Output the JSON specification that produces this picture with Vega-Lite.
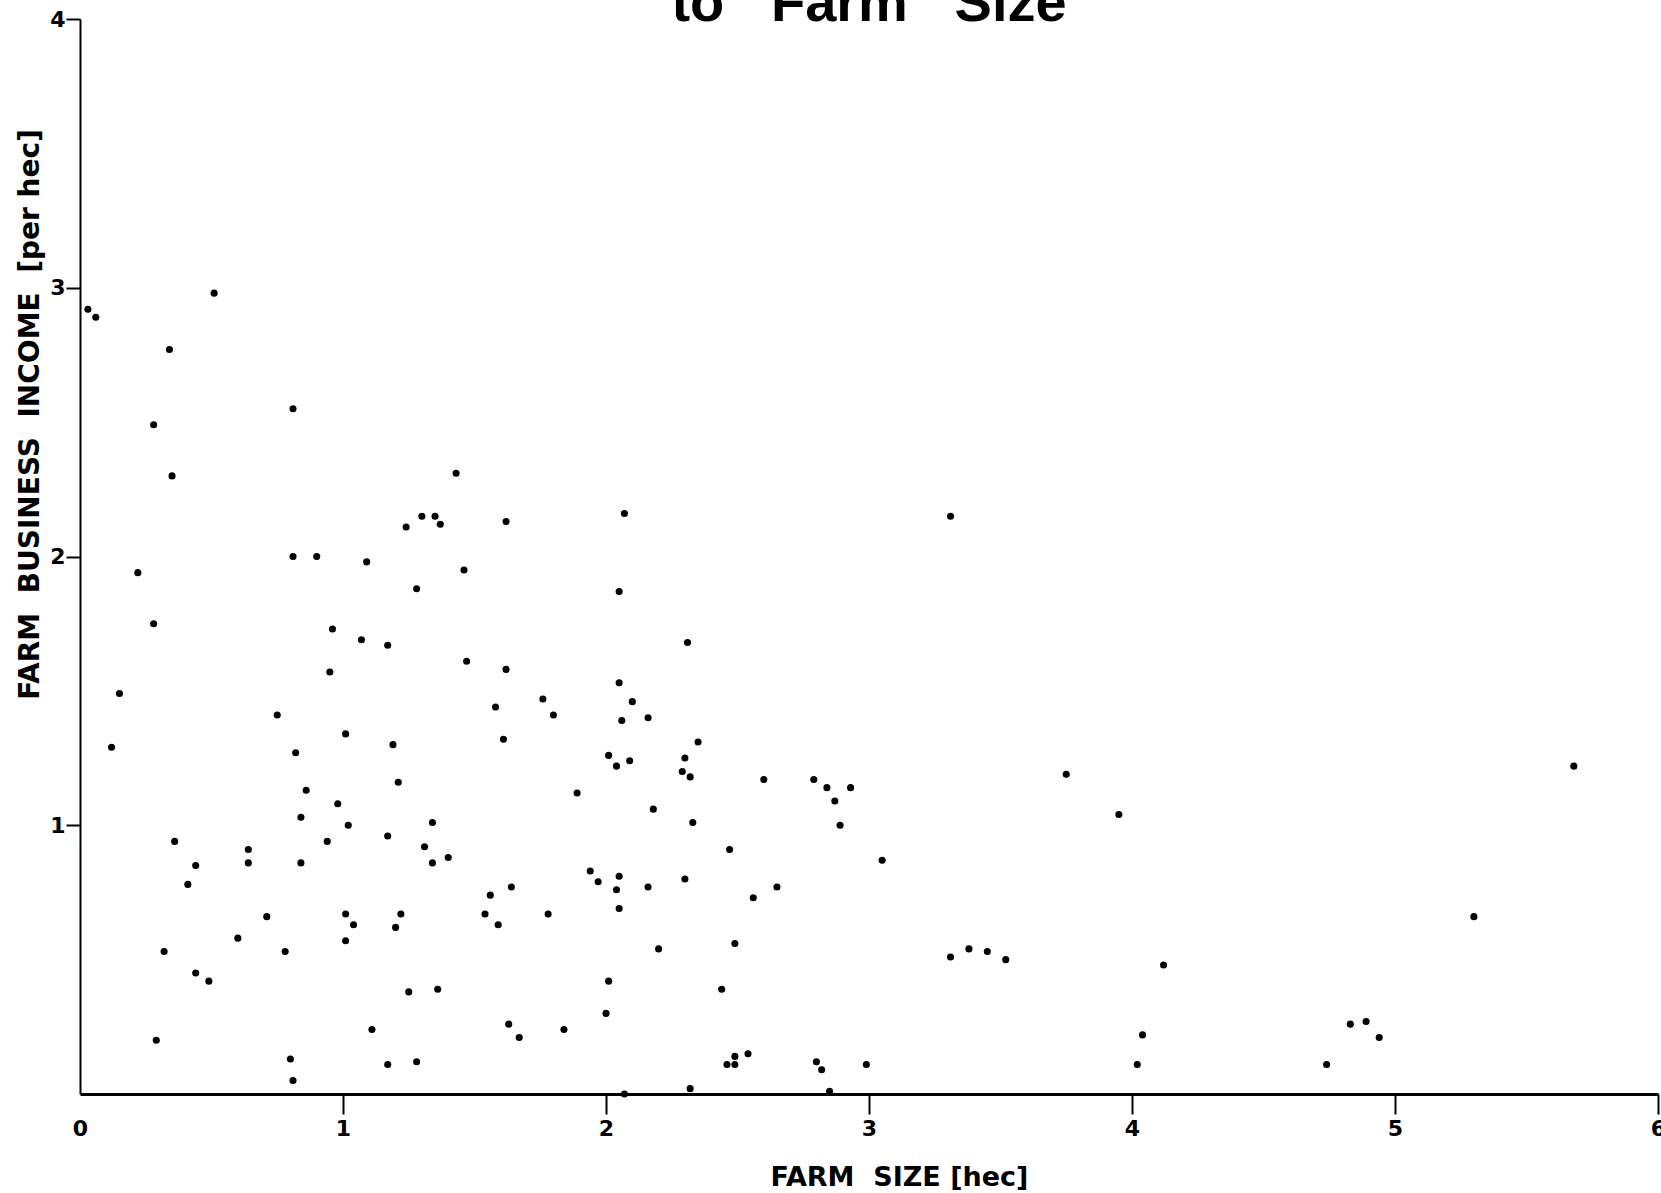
{
  "$schema": "https://vega.github.io/schema/vega-lite/v6.json",
  "width": 1578,
  "height": 1075,
  "autosize": {"type": "none"},
  "padding": {"left": 80, "top": 19, "right": 3, "bottom": 99},
  "background": "white",
  "config": {"view": {"stroke": null}, "axis": {"grid": false}},
  "title": {"text": "to\u00a0\u00a0\u00a0Farm\u00a0\u00a0\u00a0Size", "font": "Liberation Sans", "fontSize": 56, "fontWeight": "bold", "color": "black", "anchor": "middle", "baseline": "alphabetic", "offset": -69},
  "data": {"values": [
    {"size": 0.03, "income": 2.92}, {"size": 0.06, "income": 2.89}, {"size": 0.51, "income": 2.98}, {"size": 0.34, "income": 2.77},
    {"size": 0.81, "income": 2.55}, {"size": 0.28, "income": 2.49}, {"size": 0.35, "income": 2.30}, {"size": 1.43, "income": 2.31},
    {"size": 1.24, "income": 2.11}, {"size": 1.30, "income": 2.15}, {"size": 1.35, "income": 2.15}, {"size": 1.37, "income": 2.12},
    {"size": 0.81, "income": 2.00}, {"size": 0.90, "income": 2.00}, {"size": 1.09, "income": 1.98}, {"size": 0.22, "income": 1.94},
    {"size": 1.46, "income": 1.95}, {"size": 1.28, "income": 1.88},
    {"size": 0.28, "income": 1.75}, {"size": 0.96, "income": 1.73}, {"size": 1.07, "income": 1.69}, {"size": 1.17, "income": 1.67},
    {"size": 1.47, "income": 1.61}, {"size": 0.95, "income": 1.57}, {"size": 0.15, "income": 1.49}, {"size": 0.75, "income": 1.41},
    {"size": 1.01, "income": 1.34}, {"size": 1.19, "income": 1.30}, {"size": 0.12, "income": 1.29}, {"size": 0.82, "income": 1.27},
    {"size": 1.21, "income": 1.16}, {"size": 0.86, "income": 1.13}, {"size": 0.98, "income": 1.08}, {"size": 0.84, "income": 1.03},
    {"size": 1.02, "income": 1.00}, {"size": 1.34, "income": 1.01}, {"size": 0.36, "income": 0.94}, {"size": 0.94, "income": 0.94},
    {"size": 1.17, "income": 0.96}, {"size": 0.64, "income": 0.91}, {"size": 1.31, "income": 0.92}, {"size": 0.64, "income": 0.86},
    {"size": 0.84, "income": 0.86}, {"size": 1.34, "income": 0.86}, {"size": 1.40, "income": 0.88}, {"size": 0.44, "income": 0.85},
    {"size": 0.41, "income": 0.78},
    {"size": 0.32, "income": 0.53}, {"size": 0.44, "income": 0.45}, {"size": 0.49, "income": 0.42}, {"size": 0.29, "income": 0.20},
    {"size": 0.71, "income": 0.66}, {"size": 0.60, "income": 0.58}, {"size": 0.78, "income": 0.53}, {"size": 1.01, "income": 0.67},
    {"size": 1.04, "income": 0.63}, {"size": 1.01, "income": 0.57}, {"size": 1.22, "income": 0.67}, {"size": 1.20, "income": 0.62},
    {"size": 1.25, "income": 0.38}, {"size": 1.36, "income": 0.39}, {"size": 1.11, "income": 0.24}, {"size": 0.80, "income": 0.13},
    {"size": 0.81, "income": 0.05}, {"size": 1.17, "income": 0.11}, {"size": 1.28, "income": 0.12},
    {"size": 1.62, "income": 2.13}, {"size": 2.07, "income": 2.16}, {"size": 2.05, "income": 1.87}, {"size": 2.31, "income": 1.68},
    {"size": 1.62, "income": 1.58}, {"size": 2.05, "income": 1.53}, {"size": 1.76, "income": 1.47}, {"size": 1.58, "income": 1.44},
    {"size": 2.10, "income": 1.46}, {"size": 1.80, "income": 1.41}, {"size": 2.06, "income": 1.39}, {"size": 2.16, "income": 1.40},
    {"size": 1.61, "income": 1.32}, {"size": 2.35, "income": 1.31}, {"size": 2.01, "income": 1.26}, {"size": 2.09, "income": 1.24},
    {"size": 2.04, "income": 1.22}, {"size": 2.30, "income": 1.25}, {"size": 2.29, "income": 1.20}, {"size": 2.32, "income": 1.18},
    {"size": 2.60, "income": 1.17}, {"size": 2.79, "income": 1.17},
    {"size": 2.84, "income": 1.14}, {"size": 2.87, "income": 1.09}, {"size": 2.89, "income": 1.00}, {"size": 1.89, "income": 1.12},
    {"size": 2.18, "income": 1.06}, {"size": 2.33, "income": 1.01}, {"size": 2.47, "income": 0.91}, {"size": 1.94, "income": 0.83},
    {"size": 1.97, "income": 0.79}, {"size": 2.05, "income": 0.81}, {"size": 2.04, "income": 0.76}, {"size": 2.16, "income": 0.77},
    {"size": 2.30, "income": 0.80}, {"size": 2.65, "income": 0.77}, {"size": 2.56, "income": 0.73}, {"size": 2.05, "income": 0.69},
    {"size": 1.56, "income": 0.74}, {"size": 1.64, "income": 0.77}, {"size": 1.54, "income": 0.67}, {"size": 1.59, "income": 0.63},
    {"size": 1.78, "income": 0.67}, {"size": 2.20, "income": 0.54}, {"size": 2.49, "income": 0.56}, {"size": 2.01, "income": 0.42},
    {"size": 2.44, "income": 0.39}, {"size": 2.00, "income": 0.30}, {"size": 1.63, "income": 0.26}, {"size": 1.67, "income": 0.21},
    {"size": 1.84, "income": 0.24}, {"size": 2.49, "income": 0.14}, {"size": 2.54, "income": 0.15}, {"size": 2.46, "income": 0.11},
    {"size": 2.49, "income": 0.11}, {"size": 2.80, "income": 0.12}, {"size": 2.82, "income": 0.09}, {"size": 2.85, "income": 0.01},
    {"size": 2.07, "income": 0.00}, {"size": 2.32, "income": 0.02},
    {"size": 2.93, "income": 1.14}, {"size": 3.05, "income": 0.87}, {"size": 3.95, "income": 1.04}, {"size": 3.31, "income": 0.51},
    {"size": 3.38, "income": 0.54}, {"size": 3.45, "income": 0.53}, {"size": 3.52, "income": 0.50}, {"size": 4.12, "income": 0.48},
    {"size": 4.04, "income": 0.22}, {"size": 4.02, "income": 0.11}, {"size": 2.99, "income": 0.11},
    {"size": 3.31, "income": 2.15}, {"size": 3.75, "income": 1.19},
    {"size": 5.68, "income": 1.22}, {"size": 5.30, "income": 0.66}, {"size": 4.83, "income": 0.26}, {"size": 4.89, "income": 0.27},
    {"size": 4.94, "income": 0.21}, {"size": 4.74, "income": 0.11}
  ]},
  "mark": {"type": "circle", "color": "black", "opacity": 1, "size": 50},
  "encoding": {
    "x": {
      "field": "size", "type": "quantitative",
      "scale": {"domain": [0, 6], "nice": false},
      "axis": {
        "title": "FARM\u00a0\u00a0SIZE\u00a0[hec]", "values": [0, 1, 2, 3, 4, 5, 6], "format": "d",
        "domainColor": "black", "domainWidth": 3, "tickColor": "black", "tickWidth": 2, "tickSize": 20,
        "tickOpacity": {"condition": {"test": "datum.value == 0", "value": 0}, "value": 1},
        "labelFont": "DejaVu Sans", "labelFontWeight": "bold", "labelFontSize": 22, "labelColor": "black",
        "labelPadding": 4, "labelFlush": false, "labelOverlap": false,
        "titleFont": "DejaVu Sans", "titleFontSize": 27, "titleFontWeight": "bold", "titleColor": "black",
        "titleX": 819, "titleY": 83, "titleBaseline": "middle", "titleAlign": "center"
      }
    },
    "y": {
      "field": "income", "type": "quantitative",
      "scale": {"domain": [0, 4], "nice": false},
      "axis": {
        "title": "FARM\u00a0\u00a0BUSINESS\u00a0\u00a0INCOME\u00a0\u00a0[per hec]", "values": [1, 2, 3, 4], "format": "d",
        "domainColor": "black", "domainWidth": 2, "tickColor": "black", "tickWidth": 2, "tickSize": 14,
        "labelFont": "DejaVu Sans", "labelFontWeight": "bold", "labelFontSize": 22, "labelColor": "black",
        "labelPadding": 1, "labelFlush": false, "labelOverlap": false,
        "titleFont": "DejaVu Sans", "titleFontSize": 28, "titleFontWeight": "bold", "titleColor": "black",
        "titleX": -50, "titleY": 395, "titleAngle": -90, "titleBaseline": "middle", "titleAlign": "center"
      }
    }
  }
}
